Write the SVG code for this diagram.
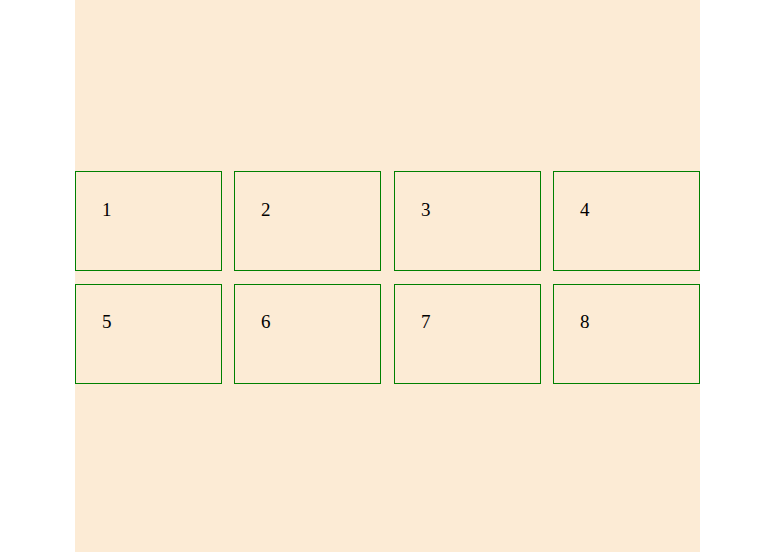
<svg xmlns="http://www.w3.org/2000/svg" width="760" height="552" viewBox="0 0 760 552">
<style>
.box rect { fill: none; stroke: #008000; stroke-width: 1; }
.box text { font-family: "Liberation Serif", serif; font-size: 19px; fill: #000; }
</style>
<rect x="75" y="0" width="625" height="552" fill="#FCEBD5"/>
<g id="n1" class="box"><rect x="75.5" y="171.5" width="146" height="99"/><text x="102" y="216">1</text></g>
<g id="n2" class="box"><rect x="234.5" y="171.5" width="146" height="99"/><text x="261" y="216">2</text></g>
<g id="n3" class="box"><rect x="394.5" y="171.5" width="146" height="99"/><text x="421" y="216">3</text></g>
<g id="n4" class="box"><rect x="553.5" y="171.5" width="146" height="99"/><text x="580" y="216">4</text></g>
<g id="n5" class="box"><rect x="75.5" y="284.5" width="146" height="99"/><text x="102" y="328">5</text></g>
<g id="n6" class="box"><rect x="234.5" y="284.5" width="146" height="99"/><text x="261" y="328">6</text></g>
<g id="n7" class="box"><rect x="394.5" y="284.5" width="146" height="99"/><text x="421" y="328">7</text></g>
<g id="n8" class="box"><rect x="553.5" y="284.5" width="146" height="99"/><text x="580" y="328">8</text></g>
<g id="connectors"></g>
</svg>
